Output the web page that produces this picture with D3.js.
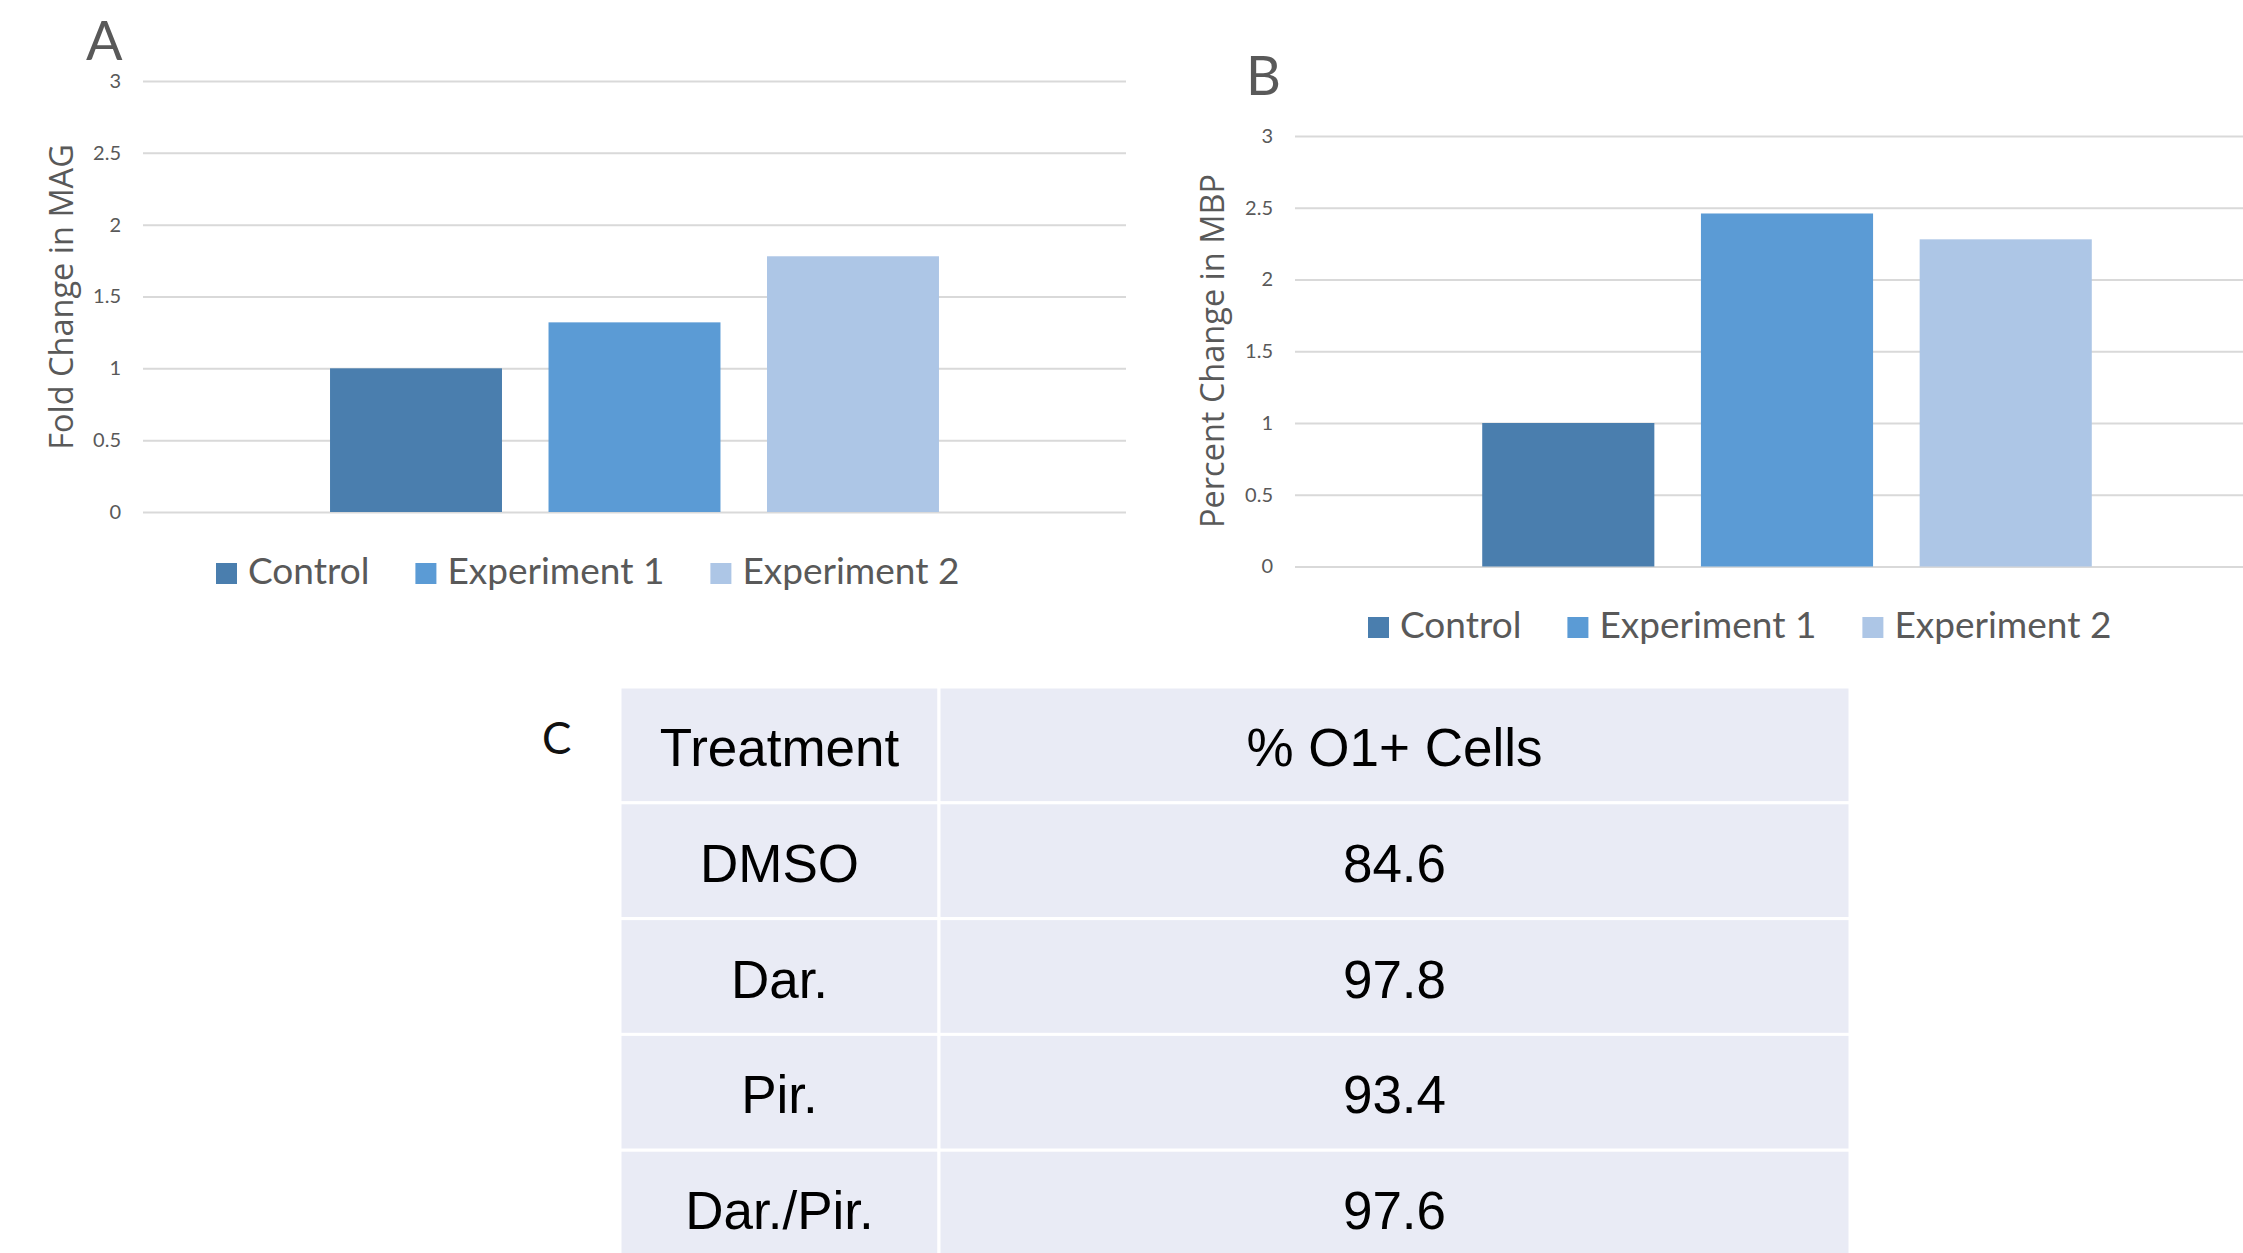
<!DOCTYPE html>
<html><head><meta charset="utf-8">
<script src="https://cdn.jsdelivr.net/npm/d3@7"></script>
<style>html,body{margin:0;padding:0;background:#fff;overflow:hidden}</style>
</head><body>
<svg id="c" width="2243" height="1253"></svg>
<script>
const series = ["Control", "Experiment 1", "Experiment 2"];
const colors = ["#4A7EAE", "#5B9BD5", "#ADC6E6"];
const magValues = [1.0, 1.32, 1.78];
const mbpValues = [1.0, 2.46, 2.28];
const yTicks = [0, 0.5, 1, 1.5, 2, 2.5, 3];
const treatments = ["DMSO", "Dar.", "Pir.", "Dar./Pir."];
const o1Values = ["84.6", "97.8", "93.4", "97.6"];
const tableHeader = ["Treatment", "% O1+ Cells"];

const svg = d3.select("#c");
const gray = "#595959";

function drawChart(cfg) {
  const g = svg.append("g");
  const y = d3.scaleLinear().domain([0, 3]).range([cfg.y0, cfg.y3]);
  const x = d3.scaleBand().domain(series).range([cfg.left, cfg.right])
    .paddingInner(0.213).paddingOuter(0.856);
  const ax = d3.axisLeft(y).tickValues(yTicks).tickSize(-(cfg.gridRight - cfg.left)).tickPadding(22)
    .tickFormat(d3.format(""));
  const axg = g.append("g").attr("transform", `translate(${cfg.left},0)`).call(ax);
  axg.select(".domain").remove();
  axg.selectAll(".tick line").attr("stroke", "#D9D9D9").attr("stroke-width", 2);
  axg.selectAll(".tick text").attr("fill", gray).style("font-family", "Lato").style("font-size", "20px");
  g.selectAll("rect.bar").data(cfg.values).join("rect").attr("class", "bar")
    .attr("x", (d, i) => x(series[i])).attr("width", x.bandwidth())
    .attr("y", d => y(d)).attr("height", d => y(0) - y(d))
    .attr("fill", (d, i) => colors[i]);
  g.append("text").attr("transform", `translate(${cfg.titleX},${cfg.titleY}) rotate(-90)`)
    .attr("text-anchor", "middle").attr("fill", gray)
    .style("font-family", "Open Sans").style("font-size", cfg.titleSize + "px").text(cfg.title);
  g.append("text").attr("x", cfg.letterX).attr("y", cfg.letterY).attr("fill", gray)
    .style("font-family", "Lato").style("font-size", "54px").text(cfg.letter);
  let lx = cfg.legendX;
  series.forEach((s, i) => {
    g.append("rect").attr("x", lx).attr("y", cfg.legendY - 21).attr("width", 21).attr("height", 21).attr("fill", colors[i]);
    const t = g.append("text").attr("x", lx + 32).attr("y", cfg.legendY).attr("fill", gray)
      .style("font-family", "Lato").style("font-size", "37px").text(s);
    lx += 32 + t.node().getComputedTextLength() + 46;
  });
}

drawChart({left: 143, right: 1126, gridRight: 1126, y0: 512, y3: 81, values: magValues,
  title: "Fold Change in MAG", titleX: 73, titleY: 297, titleSize: 32.5,
  letter: "A", letterX: 86, letterY: 60, legendX: 216, legendY: 584});
drawChart({left: 1295, right: 2279, gridRight: 2279, y0: 566.5, y3: 136, values: mbpValues,
  title: "Percent Change in MBP", titleX: 1224, titleY: 351, titleSize: 32.5,
  letter: "B", letterX: 1246, letterY: 94.5, legendX: 1368, legendY: 638});

// Table C
const colX = [620, 939, 1850];
const rowY = d3.scaleBand().domain(d3.range(5)).range([687, 687 + 5 * 115.8]);
const rows = [tableHeader].concat(treatments.map((t, i) => [t, o1Values[i]]));
const tg = svg.append("g");
rows.forEach((r, ri) => {
  r.forEach((cell, ci) => {
    tg.append("rect").attr("x", colX[ci]).attr("y", rowY(ri))
      .attr("width", colX[ci + 1] - colX[ci]).attr("height", rowY.bandwidth())
      .attr("fill", "#E9EBF5").attr("stroke", "#fff").attr("stroke-width", 3);
    tg.append("text").attr("x", (colX[ci] + colX[ci + 1]) / 2).attr("y", rowY(ri) + rowY.bandwidth() / 2 + 21)
      .attr("text-anchor", "middle").attr("fill", "#000")
      .style("font-family", "Liberation Sans").style("font-size", "53px").text(cell);
  });
});
svg.append("text").attr("x", 542).attr("y", 754).attr("fill", "#111")
  .style("font-family", "Lato").style("font-size", "44px").text("C");
</script>
</body></html>
